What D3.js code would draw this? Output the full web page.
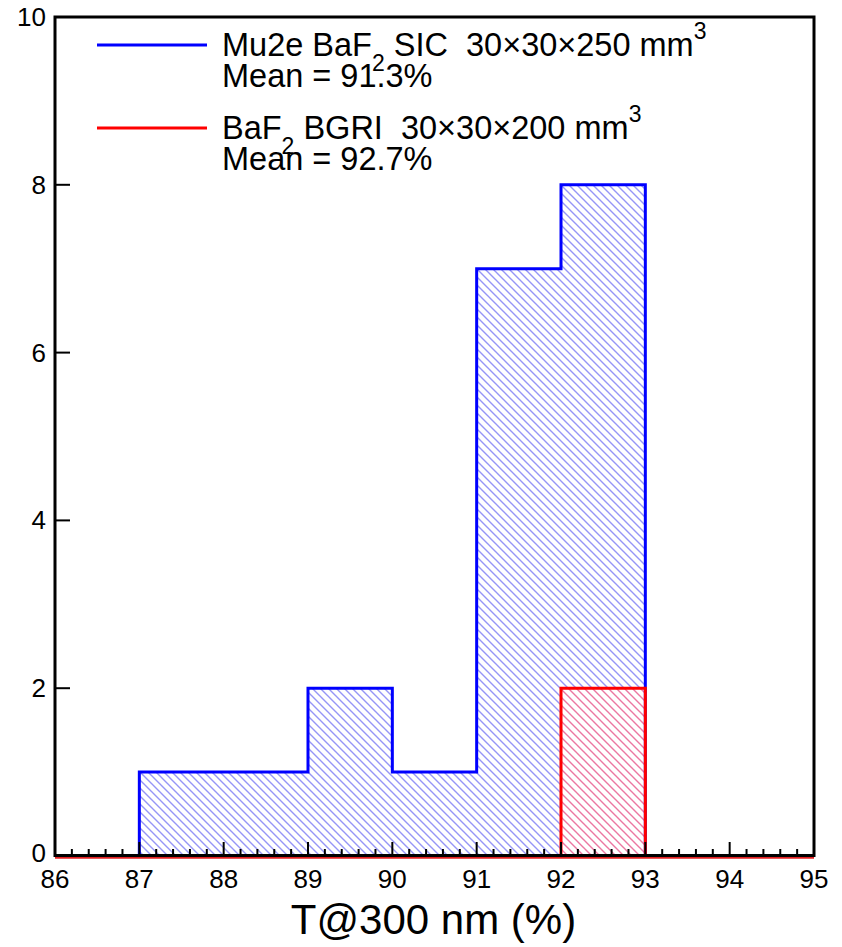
<!DOCTYPE html>
<html><head><meta charset="utf-8">
<script src="https://cdn.jsdelivr.net/npm/d3@7"></script>
<style>html,body{margin:0;padding:0;background:#fff;}</style>
</head><body>
<script>
// ---- data ----
const binEdges = [86, 87, 88, 89, 90, 91, 92, 93, 94, 95];
const mu2eCounts = [0, 1, 1, 2, 1, 7, 8, 0, 0];   // Mu2e BaF2 SIC
const bgriCounts = [0, 0, 0, 0, 0, 0, 2, 0, 0];   // BaF2 BGRI
const xTicks = [86, 87, 88, 89, 90, 91, 92, 93, 94, 95];
const yTicks = [0, 2, 4, 6, 8, 10];
const xLabel = "T@300 nm (%)";

const W = 842, H = 947;
const svg = d3.select("body").append("svg").attr("width", W).attr("height", H)
  .style("font-family", "'Liberation Sans', Arial, sans-serif");

const x = d3.scaleLinear().domain([86, 95]).range([55, 814]);
const y = d3.scaleLinear().domain([0, 10]).range([856, 17]);

const defs = svg.append("defs");
function hatch(id, color, op) {
  const s = 8;
  const p = defs.append("pattern").attr("id", id).attr("patternUnits", "userSpaceOnUse")
    .attr("width", s).attr("height", s);
  p.append("path").attr("d", `M-1,-1 L${s+1},${s+1} M${-s-1},-1 L1,${s+1} M${s-1},-1 L${2*s+1},${s+1}`)
    .attr("stroke", color).attr("stroke-width", 1.4).attr("stroke-opacity", op).attr("fill", "none");
}
hatch("hb", "#4040ee", 0.55);
hatch("hr", "#e03070", 0.65);

function pts(counts) {
  const a = counts.map((c, i) => [binEdges[i], c]);
  a.push([binEdges[binEdges.length - 1], 0]);
  return a;
}
const area = d3.area().x(d => x(d[0])).y0(y(0)).y1(d => y(d[1])).curve(d3.curveStepAfter);
const line = d3.line().x(d => x(d[0])).y(d => y(d[1])).curve(d3.curveStepAfter);

const pb = pts(mu2eCounts), pr = pts(bgriCounts);
svg.append("path").attr("d", area(pb)).attr("fill", "url(#hb)");
svg.append("path").attr("d", area(pr)).attr("fill", "#fff");
svg.append("path").attr("d", area(pr)).attr("fill", "url(#hr)");
svg.append("path").attr("d", line(pb)).attr("fill", "none").attr("stroke", "#0000ff").attr("stroke-width", 3);
svg.append("path").attr("d", line(pr)).attr("fill", "none").attr("stroke", "#ff0000").attr("stroke-width", 3);
// red zero line peeking below the axis
svg.append("line").attr("x1", x(86)).attr("x2", x(95)).attr("y1", y(0) + 1.8).attr("y2", y(0) + 1.8)
  .attr("stroke", "#e02020").attr("stroke-width", 2);

// ticks
const minor = d3.range(86, 95.001, 0.2).filter(v => Math.abs(v - Math.round(v)) > 1e-6);
svg.append("g").selectAll("line").data(minor).join("line")
  .attr("x1", d => x(d)).attr("x2", d => x(d)).attr("y1", y(0)).attr("y2", y(0) - 7)
  .attr("stroke", "#000").attr("stroke-width", 2);
svg.append("g").selectAll("line").data(xTicks).join("line")
  .attr("x1", d => x(d)).attr("x2", d => x(d)).attr("y1", y(0)).attr("y2", y(0) - 14)
  .attr("stroke", "#000").attr("stroke-width", 2);
svg.append("g").selectAll("line").data(yTicks).join("line")
  .attr("x1", x(86)).attr("x2", x(86) + 15).attr("y1", d => y(d)).attr("y2", d => y(d))
  .attr("stroke", "#000").attr("stroke-width", 2);

// frame
svg.append("rect").attr("x", x(86)).attr("y", y(10)).attr("width", x(95) - x(86)).attr("height", y(0) - y(10) - 0.5)
  .attr("fill", "none").attr("stroke", "#000").attr("stroke-width", 3);

// tick labels
svg.append("g").selectAll("text").data(xTicks).join("text")
  .attr("x", d => x(d)).attr("y", 888).attr("text-anchor", "middle")
  .attr("font-size", 26).attr("fill", "#000").text(d => d);
svg.append("g").selectAll("text").data(yTicks).join("text")
  .attr("x", 46).attr("y", d => y(d) + (d === 0 ? 6 : 9)).attr("text-anchor", "end")
  .attr("font-size", 26).attr("fill", "#000").text(d => d);

// axis title
svg.append("text").attr("x", x(90.5) - 1).attr("y", 934).attr("text-anchor", "middle")
  .attr("font-size", 42).attr("fill", "#000").text(xLabel);

// legend
function legendEntry(yLine, color, parts, meanText) {
  svg.append("line").attr("x1", 97).attr("x2", 207).attr("y1", yLine).attr("y2", yLine)
    .attr("stroke", color).attr("stroke-width", 3);
  const t = svg.append("text").attr("x", 222).attr("y", yLine + 11).attr("font-size", 32.5).attr("fill", "#000");
  parts.forEach(p => {
    const s = t.append("tspan").text(p.t);
    if (p.sub) s.attr("font-size", 23).attr("dy", 15);
    if (p.sup) s.attr("font-size", 23).attr("dy", -17);
    if (p.back) s.attr("dy", p.back);
  });
  svg.append("text").attr("x", 222).attr("y", yLine + 42).attr("font-size", 32.5).attr("fill", "#000").text(meanText);
}
legendEntry(45, "#0000ff", [
  {t: "Mu2e BaF"}, {t: "2", sub: true}, {t: " SIC\u00a0\u00a030×30×250 mm", back: -15}, {t: "3", sup: true}
], "Mean = 91.3%");
legendEntry(128, "#ff0000", [
  {t: "BaF"}, {t: "2", sub: true}, {t: " BGRI\u00a0\u00a030×30×200 mm", back: -15}, {t: "3", sup: true}
], "Mean = 92.7%");
</script>
</body></html>
